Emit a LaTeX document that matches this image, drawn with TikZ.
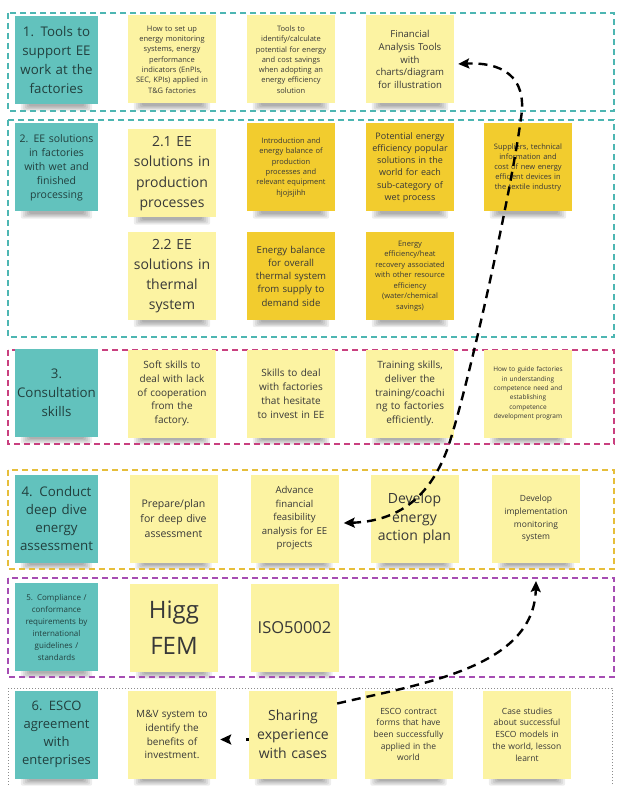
\documentclass[tikz,border=0pt]{standalone}
\usepackage{fontspec}
\setmainfont{Open Sans}
\usetikzlibrary{arrows.meta}
\pgfdeclarelayer{back}
\pgfdeclarelayer{bg}
\pgfsetlayers{back,bg,main}
\definecolor{stkteal}{HTML}{62C2BD}
\definecolor{stklight}{HTML}{FCF3A2}
\definecolor{stkgold}{HTML}{F2CC2E}
\definecolor{frteal}{HTML}{4DB6B2}
\definecolor{frpink}{HTML}{C93F7F}
\definecolor{frgold}{HTML}{E6BE3A}
\definecolor{frpurple}{HTML}{A64DB3}
\definecolor{frgray}{HTML}{8C8C8C}
\definecolor{txtdark}{HTML}{383838}
\definecolor{tealtxt}{HTML}{22403E}
\newcommand\fs[2]{\fontsize{#1}{#2}\selectfont}
\tikzset{
  stk/.style={rectangle, minimum width=88pt, minimum height=88pt, inner sep=1pt,
    text width=86pt, align=center, text=txtdark},
  ttl/.style={stk, fill=stkteal, minimum width=83pt, text width=81pt, text=tealtxt},
  lt/.style={stk, fill=stklight},
  gd/.style={stk, fill=stkgold},
  framebox/.style={line width=1.4pt, dash pattern=on 6pt off 4pt},
  conn/.style={line width=2.4pt, dash pattern=on 9pt off 6pt, black},
  tip/.style={-{Stealth[length=11pt,width=10pt,inset=2pt]}},
}
\begin{document}
\begin{tikzpicture}[x=1pt,y=-1pt]
\useasboundingbox (0,0) rectangle (616,786);
\begin{pgfonlayer}{back}
\fill[white] (0,0) rectangle (616,786);
\end{pgfonlayer}
% frames
\draw[framebox, draw=frteal] (8,13) rectangle (614,111);
\draw[framebox, draw=frteal] (8,120) rectangle (614,337);
\draw[framebox, draw=frpink] (8,350) rectangle (614,444);
\draw[framebox, draw=frgold] (8,470) rectangle (614,569);
\draw[framebox, draw=frpurple] (8,578) rectangle (614,677);
\draw[line width=1pt, dash pattern=on 1pt off 2pt, draw=frgray] (8,688) rectangle (612,800);

% row 1
\node[ttl, font=\fs{13.3}{19}] (t1) at (56.5,60) {1. Tools to\\support EE\\work at the\\factories};
\node[lt, font=\fs{7.5}{10.3}] (n11) at (172,59.5) {How to set up\\energy monitoring\\systems, energy\\performance\\indicators (EnPIs,\\SEC, KPIs) applied in\\T\&G factories};
\node[lt, font=\fs{7.5}{10.3}] (n12) at (291,59.5) {Tools to\\identify/calculate\\potential for energy\\and cost savings\\when adopting an\\energy efficiency\\solution};
\node[lt, font=\fs{9.6}{12.8}] (fin) at (410,59.5) {Financial\\Analysis Tools\\with\\charts/diagram\\for illustration};

% row 2
\node[ttl, font=\fs{10.5}{14}] (t2) at (56.5,167.5) {2. EE solutions\\in factories\\with wet and\\finished\\processing};
\node[lt, font=\fs{14}{20.5}] (n21) at (172,173.5) {2.1 EE\\solutions in\\production\\processes};
\node[gd, font=\fs{7.5}{10.3}] (n22) at (291,167.5) {Introduction and\\energy balance of\\production\\processes and\\relevant equipment\\hjojsjihh};
\node[gd, font=\fs{9}{12.2}] (n23) at (410,167.5) {Potential energy\\efficiency popular\\solutions in the\\world for each\\sub-category of\\wet process};
\node[gd, font=\fs{7.5}{10}] (n24) at (528,167.5) {Suppliers, technical\\information and\\cost of new energy\\efficient devices in\\the textile industry};
\node[lt, font=\fs{14}{20}] (n25) at (172,276) {2.2 EE\\solutions in\\thermal\\system};
\node[gd, font=\fs{9.6}{13.3}] (n26) at (291,276) {Energy balance\\for overall\\thermal system\\from supply to\\demand side};
\node[gd, font=\fs{7.5}{10.5}] (n27) at (410,276) {Energy\\efficiency/heat\\recovery associated\\with other resource\\efficiency\\(water/chemical\\savings)};

% row 3
\node[ttl, font=\fs{13.3}{19}] (t3) at (56.5,392.5) {3.\\Consultation\\skills};
\node[lt, font=\fs{10}{13.7}] (n31) at (172,393.5) {Soft skills to\\deal with lack\\of cooperation\\from the\\factory.};
\node[lt, font=\fs{10}{13.9}] (n32) at (291,393.5) {Skills to deal\\with factories\\that hesitate\\to invest in EE};
\node[lt, font=\fs{10}{13.7}] (n33) at (410,393.5) {Training skills,\\deliver the\\training/coachi\\ng to factories\\efficiently.};
\node[lt, font=\fs{6.5}{9.3}] (n34) at (528,393.5) {How to guide factories\\in understanding\\competence need and\\establishing\\competence\\development program};

% row 4
\node[ttl, font=\fs{13.3}{18.3}] (t4) at (56.5,518.5) {4. Conduct\\deep dive\\energy\\assessment};
\node[lt, font=\fs{10.5}{15}] (n41) at (173.5,518.5) {Prepare/plan\\for deep dive\\assessment};
\node[lt, font=\fs{9.6}{13.5}] (adv) at (294.5,518.5) {Advance\\financial\\feasibility\\analysis for EE\\projects};
\node[lt, font=\fs{14}{18.3}] (dev) at (414.5,518.5) {Develop\\energy\\action plan};
\node[lt, font=\fs{8.5}{12.8}] (imp) at (536,518.5) {Develop\\implementation\\monitoring\\system};

% row 5
\node[ttl, font=\fs{8}{12}] (t5) at (56.5,627) {5. Compliance /\\conformance\\requirements by\\international\\guidelines /\\standards};
\node[lt, font=\fs{24}{36}] (higg) at (174,627.5) {Higg\\FEM};
\node[lt, font=\fs{16.5}{20}] (iso) at (294.5,627.5) {ISO50002};

% row 6
\node[ttl, font=\fs{13}{17.8}] (t6) at (56.5,734.5) {6. ESCO\\agreement\\with\\enterprises};
\node[lt, font=\fs{10}{13.9}] (mv) at (172,734.5) {M\&V system to\\identify the\\benefits of\\investment.};
\node[lt, font=\fs{14}{19}] (share) at (293,734.5) {Sharing\\experience\\with cases};
\node[lt, font=\fs{8.5}{11.7}] (n63) at (408.5,734.5) {ESCO contract\\forms that have\\been successfully\\applied in the\\world};
\node[lt, font=\fs{8.5}{11.7}] (n64) at (527,734.5) {Case studies\\about successful\\ESCO models in\\the world, lesson\\learnt};

% shadows
\begin{pgfonlayer}{bg}
\foreach \n in {t1,n11,n12,fin,t2,n21,n22,n23,n24,n25,n26,n27,t3,n31,n32,n33,n34,t4,n41,adv,dev,imp,t5,higg,iso,t6,mv,share,n63,n64}{
  \foreach \k in {0,...,4}{
    \fill[black,opacity=0.07,rounded corners=2pt]
      ([xshift=6pt+\k*2pt,yshift=4pt]\n.south west) rectangle
      ([xshift=-6pt-\k*2pt,yshift=-7pt+\k*1.2pt]\n.south east);
  }
}
\end{pgfonlayer}

% connectors
\coordinate (c5top) at (536,581);
\draw[conn, {Stealth[length=11pt,width=10pt,inset=2pt]}-{Stealth[length=11pt,width=10pt,inset=2pt]}]
  ([xshift=5pt,yshift=-4.5pt]adv.east) .. controls (405,521) and (432,490) .. (447,450)
  .. controls (465,400) and (510,200) .. (521,118)
  .. controls (528,75) and (500,62) .. ([xshift=4pt,yshift=-4.5pt]fin.east);
\draw[conn, tip, dash pattern=on 3pt off 30pt] ([yshift=-5pt]share.west) -- ([xshift=4pt,yshift=-5pt]mv.east);
\draw[conn, tip] ([yshift=31pt]share.east) .. controls (420,684) and (534,668) .. (c5top);
\end{tikzpicture}
\end{document}
